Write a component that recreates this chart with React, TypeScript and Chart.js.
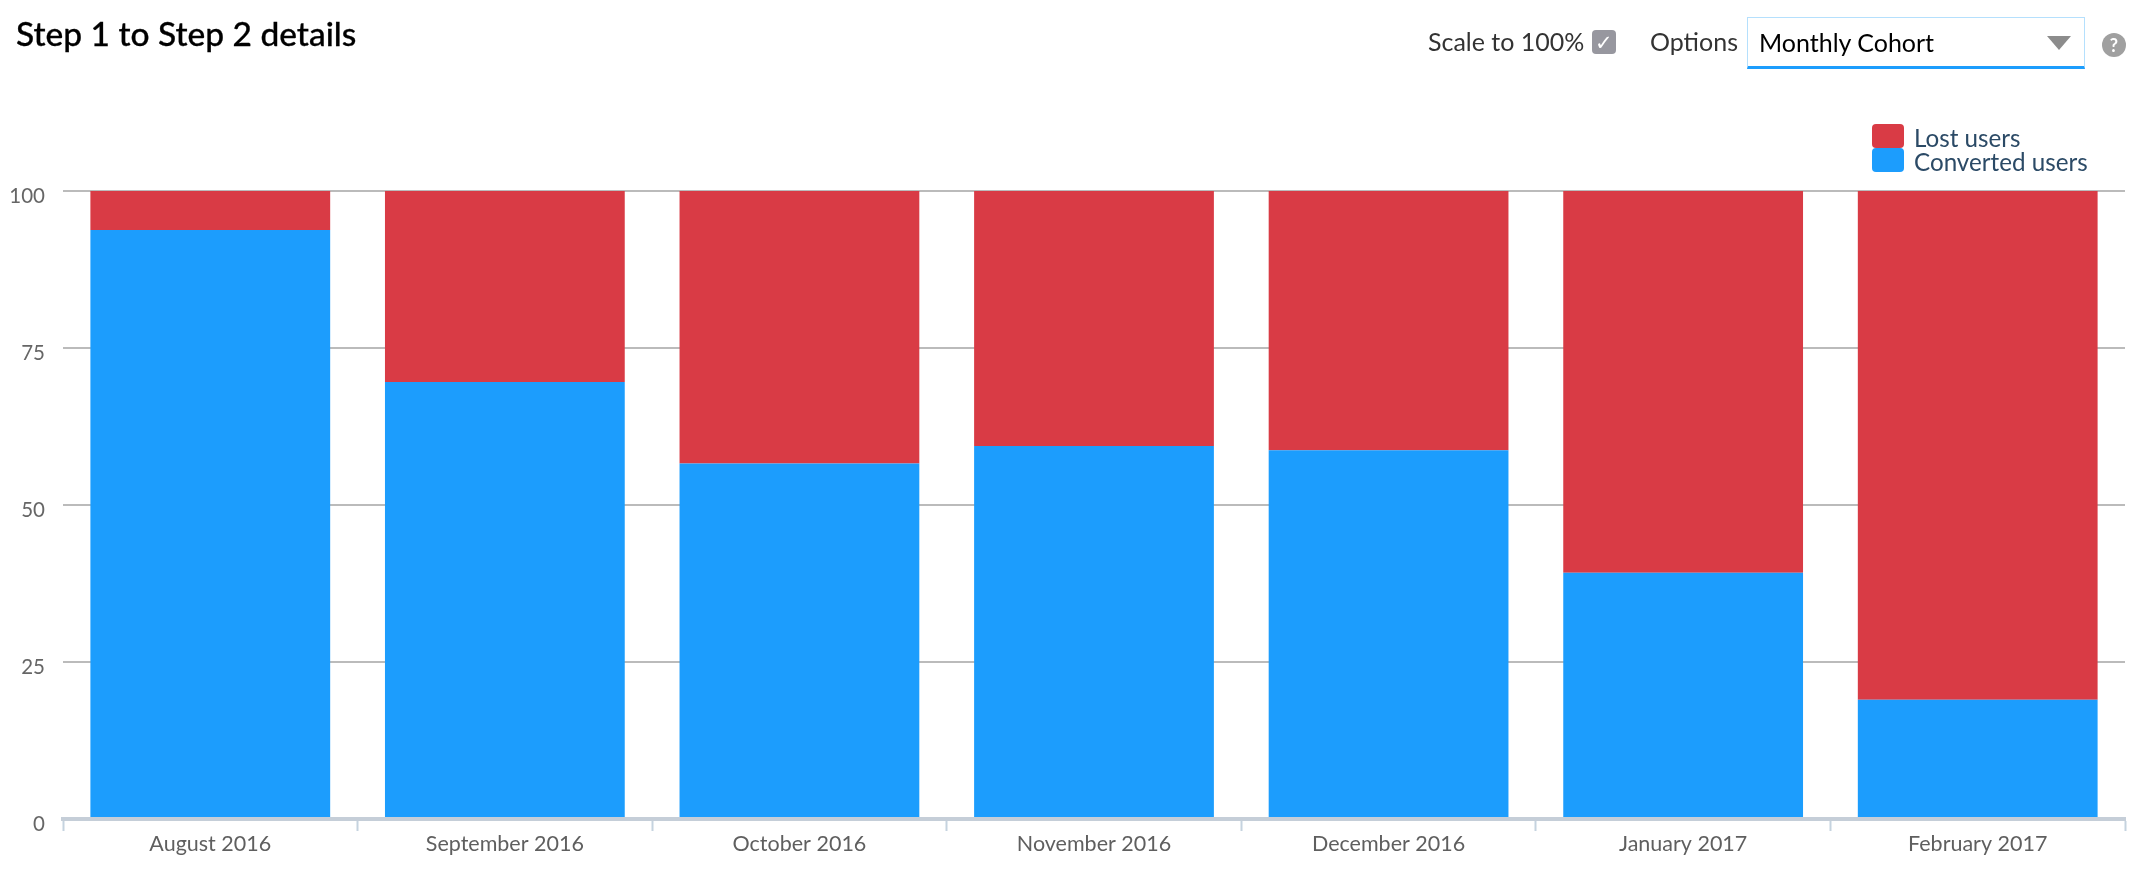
import React, { useEffect, useRef } from "react";
import { Chart, registerables } from "chart.js";

Chart.register(...registerables);

const categories = ["August 2016", "September 2016", "October 2016", "November 2016", "December 2016", "January 2017", "February 2017"];
const convertedUsers = [93.8, 69.6, 56.6, 59.4, 58.7, 39.2, 19];
const lostUsers = [6.2, 30.4, 43.4, 40.6, 41.3, 60.8, 81];
const yTicks = [0, 25, 50, 75, 100];

const RED = "#d93b45";
const BLUE = "#1c9dfd";
const FONT = "Lato, 'Open Sans', sans-serif";

const legendItems = [
  { label: "Lost users", color: RED },
  { label: "Converted users", color: BLUE },
];

const abs = (left: number, top: number, extra: React.CSSProperties = {}): React.CSSProperties => ({
  position: "absolute",
  left,
  top,
  whiteSpace: "nowrap",
  fontFamily: FONT,
  ...extra,
});

export default function App() {
  const ref = useRef<HTMLCanvasElement>(null);

  useEffect(() => {
    const chart = new Chart(ref.current!, {
      type: "bar",
      data: {
        labels: categories,
        datasets: [
          { label: "Converted users", data: convertedUsers, backgroundColor: BLUE, stack: "s", barPercentage: 0.814, categoryPercentage: 1 },
          { label: "Lost users", data: lostUsers, backgroundColor: RED, stack: "s", barPercentage: 0.814, categoryPercentage: 1 },
        ],
      },
      options: {
        responsive: false,
        animation: false,
        devicePixelRatio: 1,
        layout: { padding: { left: 0, right: 17, top: 191, bottom: 0 } },
        plugins: { legend: { display: false }, title: { display: false }, tooltip: { enabled: false } },
        scales: {
          x: {
            stacked: true,
            afterFit: (s: any) => { s.height = 65; },
            border: { display: true, color: "#c5ced8", width: 4, z: 1 },
            grid: { display: true, drawOnChartArea: false, drawTicks: true, tickLength: 12, tickWidth: 2, tickColor: "#c5d3df", offset: true },
            ticks: { color: "#5f5f5f", font: { family: FONT, size: 21.5 }, padding: 0, maxRotation: 0, autoSkip: false },
          },
          y: {
            stacked: true,
            min: 0,
            max: 100,
            afterFit: (s: any) => { s.width = 63; },
            afterBuildTicks: (s: any) => { s.ticks = yTicks.map((value) => ({ value })); },
            border: { display: false },
            grid: { color: "#bbbbbb", lineWidth: 2, drawTicks: false },
            ticks: { color: "#666666", font: { family: FONT, size: 20.5 }, padding: 18, labelOffset: 5 },
          },
        },
      },
    } as any);
    return () => chart.destroy();
  }, []);

  return (
    <div style={{ position: "fixed", inset: 0, width: 2142, height: 884, background: "#fff", overflow: "hidden" }}>
      <canvas ref={ref} width={2142} height={884} style={{ position: "absolute", left: 0, top: 0, width: 2142, height: 884 }} />
      <div style={abs(16, 14, { fontSize: 33.5, lineHeight: "38px", color: "#000", fontWeight: 500, WebkitTextStroke: "0.3px #000" })}>Step 1 to Step 2 details</div>

      <div style={abs(1428, 26, { fontSize: 25, lineHeight: "30px", color: "#333" })}>Scale to 100%</div>
      <div style={abs(1592, 30, { width: 24, height: 24, borderRadius: 4, background: "#97979f", color: "#fff", fontSize: 21, lineHeight: "24px", textAlign: "center" })}>✓</div>
      <div style={abs(1650, 26, { fontSize: 25, lineHeight: "30px", color: "#333" })}>Options</div>

      <div style={abs(1747, 17, { width: 338, height: 52, boxSizing: "border-box", border: "1px solid #b5e0fd", borderBottom: "3px solid #1c9dfd" })} />
      <div style={abs(1759, 27, { fontSize: 25, lineHeight: "30px", color: "#000" })}>Monthly Cohort</div>
      <div style={abs(2047, 36, { width: 0, height: 0, borderLeft: "12px solid transparent", borderRight: "12px solid transparent", borderTop: "14px solid #8c8c8c" })} />
      <div style={abs(2102, 33, { width: 24, height: 24, borderRadius: "50%", background: "#a0a0a0", color: "#fff", fontSize: 18, fontWeight: 700, lineHeight: "24px", textAlign: "center" })}>?</div>

      {legendItems.map((item, i) => (
        <React.Fragment key={item.label}>
          <div style={abs(1872, 124 + i * 24, { width: 32, height: 24, borderRadius: 4, background: item.color })} />
          <div style={abs(1914, 125 + i * 24, { fontSize: 24.2, lineHeight: "26px", color: "#2b4a66" })}>{item.label}</div>
        </React.Fragment>
      ))}
    </div>
  );
}
